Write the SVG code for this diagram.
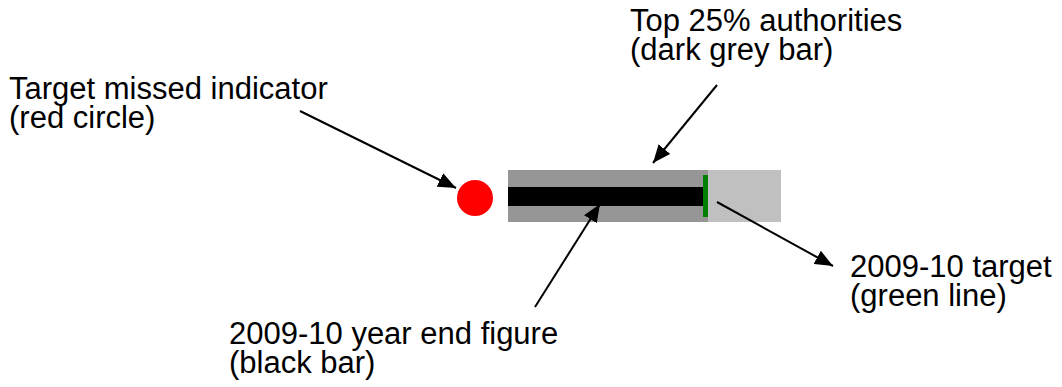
<svg xmlns="http://www.w3.org/2000/svg" width="1062" height="387" viewBox="0 0 1062 387">
<style>
text{font-family:"Liberation Sans",Arial,sans-serif;font-size:31px;fill:#000}
.conn line{stroke:#000;stroke-width:2;marker-end:url(#ah)}
</style>
<defs>
<marker id="ah" markerUnits="userSpaceOnUse" markerWidth="19" markerHeight="15" refX="18" refY="7.5" orient="auto">
<path d="M0,0 L18,7.5 L0,15 z" fill="#000"/>
</marker>
</defs>
<rect width="1062" height="387" fill="#fff"/>
<g id="gauge">
<rect x="508" y="170" width="273" height="52" fill="#c0c0c0"/>
<rect x="508" y="170" width="200" height="52" fill="#969696"/>
<rect x="508" y="187" width="195" height="19" fill="#000"/>
<rect x="703" y="175" width="5" height="42" fill="#008000"/>
</g>
<g id="red-circle"><circle cx="475" cy="198" r="18" fill="#ff0000"/></g>
<g id="label-target-missed">
<text x="9" y="99">Target missed indicator</text>
<text x="9" y="128">(red circle)</text>
</g>
<g id="label-top25">
<text x="630" y="31">Top 25% authorities</text>
<text x="630" y="60">(dark grey bar)</text>
</g>
<g id="label-year-end">
<text x="229" y="344">2009-10 year end figure</text>
<text x="229" y="373">(black bar)</text>
</g>
<g id="label-target">
<text x="850" y="277">2009-10 target</text>
<text x="850" y="306">(green line)</text>
</g>
<g id="connectors" class="conn">
<line x1="300" y1="111" x2="456" y2="188"/>
<line x1="717" y1="85" x2="653" y2="163"/>
<line x1="535" y1="307" x2="600" y2="204"/>
<line x1="717" y1="202" x2="833" y2="266"/>
</g>
</svg>
